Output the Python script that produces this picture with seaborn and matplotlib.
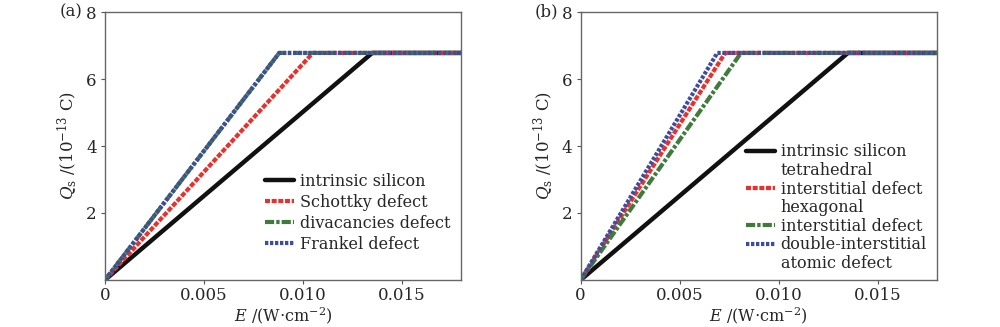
import matplotlib
matplotlib.use('Agg')
import matplotlib.pyplot as plt
from matplotlib.lines import Line2D
import numpy as np
import seaborn as sns
import pandas as pd

# saturation charge (10^-13 C) and axis end
q_sat = 6.78
e_end = 0.018

# panel (a): field E where each curve saturates
a_names = ['intrinsic silicon', 'Schottky defect', 'divacancies defect', 'Frankel defect']
a_esat = [0.0135, 0.0105, 0.0088, 0.0088]

# panel (b)
b_names = ['intrinsic silicon', 'tetrahedral interstitial defect',
           'hexagonal interstitial defect', 'double-interstitial atomic defect']
b_esat = [0.0135, 0.0073, 0.0081, 0.0069]

colors = ['#111111', '#e8302c', '#3f7c3c', '#3e4b9e']
styles = ['-', (0, (1.2, 0.4)), (0, (2.2, 0.5, 0.8, 0.5)), (0, (0.8, 0.4))]
widths = [3.2, 3.0, 3.0, 3.0]

sns.set_style('ticks')
plt.rcParams['font.family'] = ['DejaVu Serif']
plt.rcParams['mathtext.fontset'] = 'dejavuserif'

fig, axes = plt.subplots(1, 2, figsize=(10, 3.27), dpi=100)
fig.subplots_adjust(left=0.105, right=0.937, bottom=0.144, top=0.963, wspace=0.335)


def panel(ax, names, esat, tag):
    for i, (n, e) in enumerate(zip(names, esat)):
        df = pd.DataFrame({'E': [0, e, e_end], 'Q': [0, q_sat, q_sat]})
        sns.lineplot(data=df, x='E', y='Q', ax=ax, color=colors[i], linestyle=styles[i],
                     lw=widths[i], sort=False, label=n, legend=False)
    ax.set_xlim(0, e_end)
    ax.set_ylim(0, 8)
    ax.set_xticks([0, 0.005, 0.010, 0.015])
    ax.set_xticklabels(['0', '0.005', '0.010', '0.015'])
    ax.set_yticks([2, 4, 6, 8])
    ax.tick_params(labelsize=12, length=3, width=0.8, color='#555555', pad=3)
    ax.tick_params(axis='x', pad=2)
    for s in ax.spines.values():
        s.set_color('#666666')
        s.set_linewidth(1.0)
    ax.set_xlabel(r'$E$ /(W$\cdot$cm$^{-2}$)', fontsize=11.5, labelpad=1)
    ax.set_ylabel(r'$Q_\mathrm{s}$ /(10$^{-13}$ C)', fontsize=12, labelpad=5)
    ax.text(-0.062, 1.0, '(' + tag + ')', transform=ax.transAxes, fontsize=12,
            ha='right', va='center')


panel(axes[0], a_names, a_esat, 'a')
panel(axes[1], b_names, b_esat, 'b')

h = [Line2D([], [], color=c, linestyle=s, lw=w) for c, s, w in zip(colors, styles, widths)]
axes[0].legend(h, a_names, loc='upper left', bbox_to_anchor=(0.45, 0.40), frameon=False,
               fontsize=11.5, handlelength=1.8, handletextpad=0.35, labelspacing=0.25,
               borderaxespad=0, borderpad=0)

blank = Line2D([], [], color='none')
b_h = [h[0], blank, h[1], blank, h[2], h[3], blank]
b_l = ['intrinsic silicon', 'tetrahedral', 'interstitial defect', 'hexagonal',
       'interstitial defect', 'double-interstitial', 'atomic defect']
axes[1].legend(b_h, b_l, loc='upper left', bbox_to_anchor=(0.465, 0.51), frameon=False,
               fontsize=11.5, handlelength=1.8, handletextpad=0.35, labelspacing=0.1,
               borderaxespad=0, borderpad=0)

fig.savefig('out.png', dpi=100)
